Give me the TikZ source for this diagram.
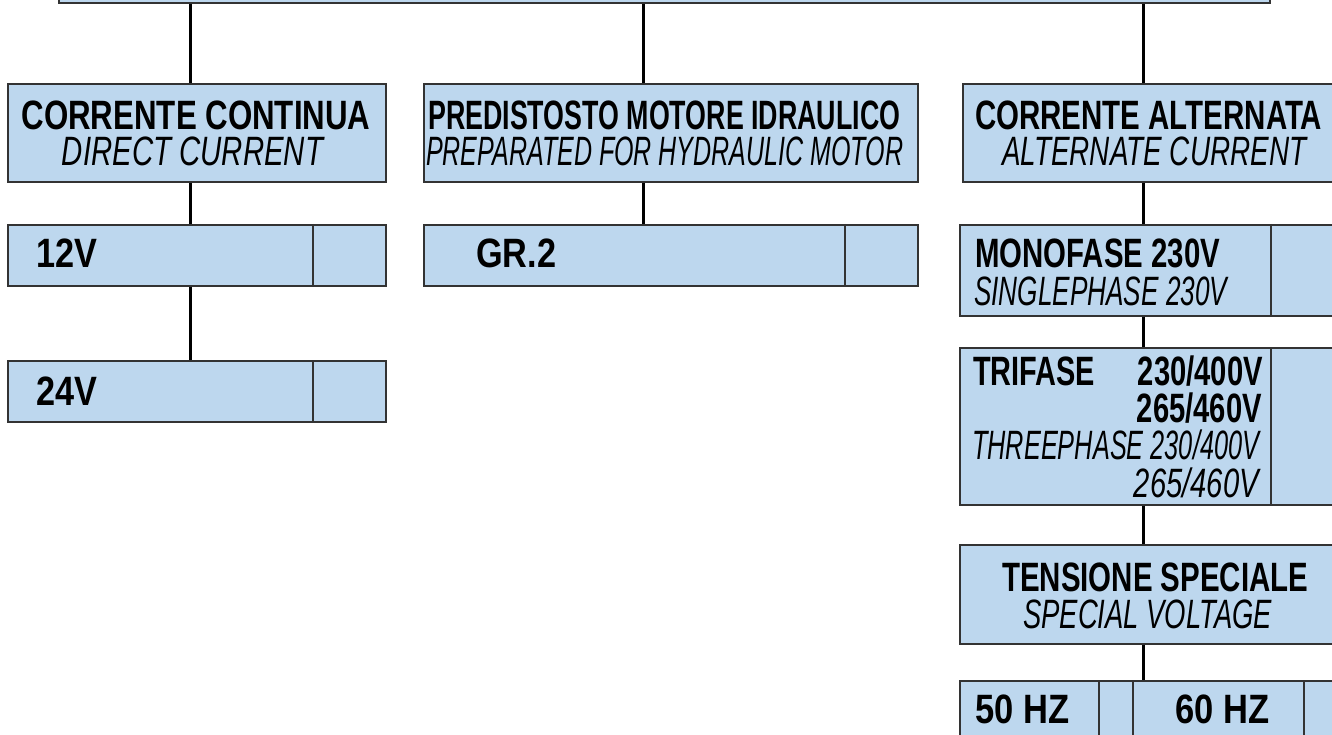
\documentclass[tikz,border=0pt]{standalone}
\usepackage{fontspec}
\setmainfont{Liberation Sans}
\usepackage{graphicx}
\definecolor{boxfill}{HTML}{BDD7EE}
\definecolor{boxline}{HTML}{333333}
\tikzset{
  box/.style={draw=boxline, fill=boxfill, line width=1.7pt, rectangle, inner sep=0pt, anchor=north west},
  conn/.style={draw=black, line width=3pt},
  divider/.style={draw=boxline, line width=1.4pt},
  lbl/.style={inner sep=0pt, font=\fontsize{41}{41}\selectfont},
}
\newcommand{\fitb}[2]{\raisebox{0pt}[\height][0pt]{\resizebox{#1pt}{\height}{\bfseries #2}}}
\newcommand{\fiti}[2]{\raisebox{0pt}[\height][0pt]{\resizebox{#1pt}{\height}{\itshape #2}}}
\begin{document}
\begin{tikzpicture}[x=1pt,y=-1pt]
\clip (0,0) rectangle (1332,735);
% boxes
\node[box, minimum width=1211pt, minimum height=40pt, anchor=south west] (root) at (58,4) {};
\node[box, minimum width=378pt, minimum height=98pt] (cc) at (7,83) {};
\node[box, minimum width=494pt, minimum height=98pt] (pm) at (423,83) {};
\node[box, minimum width=390pt, minimum height=98pt] (ca) at (962,83) {};
\node[box, minimum width=378pt, minimum height=61pt] (v12) at (7,224) {};
\node[box, minimum width=378pt, minimum height=61pt] (v24) at (7,360) {};
\node[box, minimum width=494pt, minimum height=61pt] (gr) at (423,224) {};
\node[box, minimum width=393pt, minimum height=91pt] (mono) at (959,224) {};
\node[box, minimum width=393pt, minimum height=157pt] (tri) at (959,347) {};
\node[box, minimum width=393pt, minimum height=99pt] (ts) at (959,544) {};
\node[box, minimum width=393pt, minimum height=80pt] (hz) at (959,680) {};
% x positions
\coordinate (xa) at (190,0);
\coordinate (xb) at (643,0);
\coordinate (xc) at (1143,0);
\coordinate (d1) at (313,0);
\coordinate (d2) at (845,0);
\coordinate (d3) at (1271,0);
\coordinate (d4) at (1099,0);
\coordinate (d5) at (1133,0);
\coordinate (d6) at (1304,0);
% connectors
\draw[conn] (root.south -| xa) -- (cc.north -| xa);
\draw[conn] (cc.south -| xa) -- (v12.north -| xa);
\draw[conn] (v12.south -| xa) -- (v24.north -| xa);
\draw[conn] (root.south -| xb) -- (pm.north -| xb);
\draw[conn] (pm.south -| xb) -- (gr.north -| xb);
\draw[conn] (root.south -| xc) -- (ca.north -| xc);
\draw[conn] (ca.south -| xc) -- (mono.north -| xc);
\draw[conn] (mono.south -| xc) -- (tri.north -| xc);
\draw[conn] (tri.south -| xc) -- (ts.north -| xc);
\draw[conn] (ts.south -| xc) -- (hz.north -| xc);
% dividers
\draw[divider] (v12.north -| d1) -- (v12.south -| d1);
\draw[divider] (v24.north -| d1) -- (v24.south -| d1);
\draw[divider] (gr.north -| d2) -- (gr.south -| d2);
\draw[divider] (mono.north -| d3) -- (mono.south -| d3);
\draw[divider] (tri.north -| d3) -- (tri.south -| d3);
\draw[divider] (hz.north -| d4) -- (hz.south -| d4);
\draw[divider] (hz.north -| d5) -- (hz.south -| d5);
\draw[divider] (hz.north -| d6) -- (hz.south -| d6);
% texts
\node[lbl, anchor=base] (t1) at (196,130) {\fitb{349}{CORRENTE CONTINUA}};
\node[lbl, anchor=base] (t2) at (192.5,166) {\fiti{261}{DIRECT CURRENT}};
\node[lbl, anchor=base west] (t3) at (428,130) {\fitb{472}{PREDISTOSTO MOTORE IDRAULICO}};
\node[lbl, anchor=base west] (t4) at (426,166) {\fiti{477}{PREPARATED FOR HYDRAULIC MOTOR}};
\node[lbl, anchor=base west] (t5) at (975,130) {\fitb{347}{CORRENTE ALTERNATA}};
\node[lbl, anchor=base west] (t6) at (1002,166) {\fiti{304}{ALTERNATE CURRENT}};
\node[lbl, anchor=base west] (t7) at (36,267) {\fitb{61}{12V}};
\node[lbl, anchor=base west] (t8) at (36,405) {\fitb{61}{24V}};
\node[lbl, anchor=base west] (t9) at (476,268) {\fitb{80}{GR.2}};
\node[lbl, anchor=base west] (t10) at (975,268) {\fitb{245}{MONOFASE 230V}};
\node[lbl, anchor=base west] (t11) at (974,305) {\fiti{253}{SINGLEPHASE 230V}};
\node[lbl, anchor=base west] (t12) at (973,385) {\fitb{122}{TRIFASE}};
\node[lbl, anchor=base east] (t13) at (1263,385) {\fitb{125}{230/400V}};
\node[lbl, anchor=base east] (t14) at (1262,422) {\fitb{125}{265/460V}};
\node[lbl, anchor=base west] (t15) at (972,459) {\fiti{287}{THREEPHASE 230/400V}};
\node[lbl, anchor=base east] (t16) at (1259,497) {\fiti{125}{265/460V}};
\node[lbl, anchor=base west] (t17) at (1002,591) {\fitb{306}{TENSIONE SPECIALE}};
\node[lbl, anchor=base west] (t18) at (1023,628) {\fiti{249}{SPECIAL VOLTAGE}};
\node[lbl, anchor=base west] (t19) at (975,723) {\fitb{94}{50 HZ}};
\node[lbl, anchor=base west] (t20) at (1175,723) {\fitb{94}{60 HZ}};
\end{tikzpicture}
\end{document}
